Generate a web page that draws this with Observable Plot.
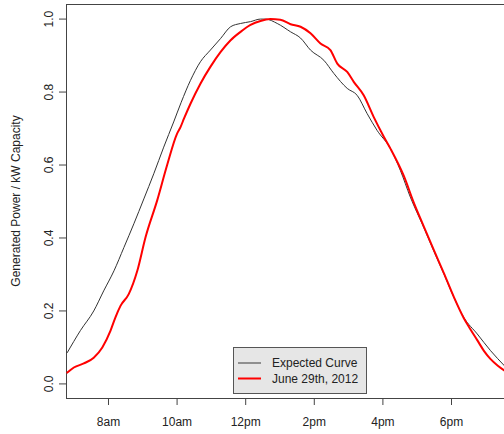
<!DOCTYPE html>
<html>
<head>
<meta charset="utf-8">
<script src="https://cdn.jsdelivr.net/npm/d3@7"></script>
<script src="https://cdn.jsdelivr.net/npm/@observablehq/plot@0.6"></script>
<style>
  html, body { margin: 0; padding: 0; background: #fff; overflow: hidden; }
  #chart { position: relative; width: 504px; height: 434px; }
</style>
</head>
<body>
<div id="chart"></div>
<script>
// Hours of day (decimal) and normalized output
const expectedHours = [6.80, 7.18, 7.57, 7.86, 8.16, 8.45, 8.74, 9.03, 9.32, 9.61, 9.90, 10.12, 10.39, 10.68, 10.97, 11.27, 11.56, 11.85, 12.14, 12.43, 12.58, 12.92, 13.31, 13.60, 13.89, 14.28, 14.57, 14.96, 15.25, 15.54, 15.83, 16.22, 16.51, 16.80, 17.19, 17.48, 17.78, 18.07, 18.36, 18.75, 19.14, 19.55];
const expectedValues = [0.086, 0.146, 0.200, 0.255, 0.310, 0.374, 0.439, 0.507, 0.576, 0.649, 0.718, 0.772, 0.832, 0.883, 0.915, 0.947, 0.979, 0.988, 0.993, 1.000, 1.000, 0.988, 0.965, 0.948, 0.915, 0.887, 0.851, 0.810, 0.791, 0.741, 0.695, 0.645, 0.585, 0.512, 0.429, 0.365, 0.301, 0.237, 0.182, 0.137, 0.091, 0.049];

const juneHours = [6.80, 6.99, 7.28, 7.57, 7.82, 8.06, 8.20, 8.35, 8.59, 8.84, 9.08, 9.42, 9.71, 10.00, 10.10, 10.20, 10.39, 10.68, 10.97, 11.27, 11.56, 11.85, 12.14, 12.43, 12.72, 13.01, 13.31, 13.60, 13.89, 14.18, 14.47, 14.67, 14.96, 15.15, 15.44, 15.73, 16.03, 16.22, 16.61, 16.90, 17.19, 17.48, 17.78, 18.07, 18.36, 18.55, 18.75, 18.95, 19.14, 19.35, 19.55];
const juneValues = [0.031, 0.045, 0.056, 0.072, 0.100, 0.146, 0.182, 0.214, 0.246, 0.310, 0.402, 0.503, 0.600, 0.686, 0.704, 0.727, 0.768, 0.823, 0.869, 0.910, 0.942, 0.965, 0.984, 0.995, 1.000, 0.998, 0.986, 0.979, 0.961, 0.933, 0.915, 0.878, 0.855, 0.828, 0.791, 0.732, 0.677, 0.645, 0.570, 0.497, 0.432, 0.368, 0.303, 0.238, 0.180, 0.150, 0.120, 0.090, 0.068, 0.050, 0.036];

const xTicks = [8, 10, 12, 14, 16, 18];
const xTickLabels = ["8am", "10am", "12pm", "2pm", "4pm", "6pm"];
const yTicks = [0, 0.2, 0.4, 0.6, 0.8, 1.0];
const seriesNames = ["Expected Curve", "June 29th, 2012"];
const seriesColors = ["#333333", "#ff0000"];

const expected = expectedHours.map((h, i) => ({h, v: expectedValues[i]}));
const june = juneHours.map((h, i) => ({h, v: juneValues[i]}));

const xDomain = [6.776, 19.545];
const yDomain = [-0.04, 1.04];
const axisColor = "#444";

const plot = Plot.plot({
  width: 504,
  height: 434,
  marginLeft: 66,
  marginRight: 0,
  marginTop: 4,
  marginBottom: 36,
  style: {fontFamily: "'Liberation Sans', Arial, sans-serif", fontSize: "12px", color: "#222", background: "#fff"},
  x: {domain: xDomain},
  y: {domain: yDomain},
  marks: [
    Plot.ruleX([xDomain[0]], {stroke: axisColor, strokeWidth: 1}),
    Plot.ruleY(yDomain, {stroke: axisColor, strokeWidth: 1}),
    Plot.axisX(xTicks, {
      tickSize: 7, tickPadding: 12, stroke: axisColor,
      tickFormat: (d) => xTickLabels[xTicks.indexOf(d)], label: null
    }),
    Plot.axisY(yTicks, {
      tickSize: 7, tickPadding: 7, tickRotate: -90, stroke: axisColor,
      tickFormat: d3.format(".1f"), label: null
    }),
    Plot.line(expected, {x: "h", y: "v", stroke: seriesColors[0], strokeWidth: 1, curve: "monotone-x"}),
    Plot.line(june, {x: "h", y: "v", stroke: seriesColors[1], strokeWidth: 2, curve: "monotone-x"})
  ]
});

document.getElementById("chart").appendChild(plot);

const svg = d3.select(plot);
// Y axis title
svg.append("text")
  .attr("transform", "translate(20,201) rotate(-90)")
  .attr("text-anchor", "middle")
  .attr("fill", "#222")
  .style("font-size", "12px")
  .text("Generated Power / kW Capacity");

// Legend
const lg = svg.append("g").attr("text-anchor", "start");
lg.append("rect")
  .attr("x", 233.5).attr("y", 347.5).attr("width", 133).attr("height", 46)
  .attr("fill", "#e6e6e6").attr("stroke", "#555").attr("stroke-width", 1);
seriesNames.forEach((name, i) => {
  const y = 363 + i * 15.5;
  lg.append("line")
    .attr("x1", 238).attr("x2", 261).attr("y1", y).attr("y2", y)
    .attr("stroke", i === 0 ? "#555" : seriesColors[1])
    .attr("stroke-width", i === 0 ? 1.2 : 2);
  lg.append("text")
    .attr("x", 272).attr("y", y).attr("dy", "0.35em")
    .attr("text-anchor", "start")
    .attr("fill", "#222").style("font-size", "12px")
    .text(name);
});
</script>
</body>
</html>
